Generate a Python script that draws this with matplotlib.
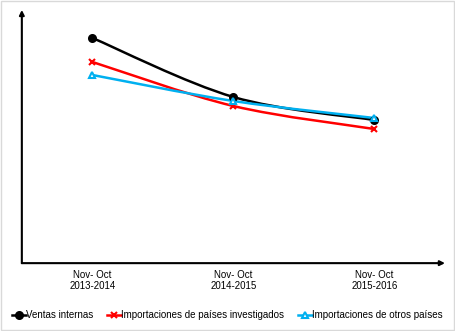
import numpy as np
import matplotlib
matplotlib.use("Agg")
from matplotlib import pyplot as plt
from matplotlib.path import Path
from matplotlib.patches import PathPatch, Rectangle
from matplotlib.lines import Line2D

plt.rcParams['font.family'] = ['Liberation Sans', 'DejaVu Sans']

periodos = ["Nov- Oct\n2013-2014", "Nov- Oct\n2014-2015", "Nov- Oct\n2015-2016"]
ventas_internas = [225, 166, 143]
imp_investigados = [201, 157, 134]
imp_otros = [188, 162, 145]

series = [
    ("Ventas internas", ventas_internas, "#000000", "o", "#000000"),
    ("Importaciones de países investigados", imp_investigados, "#ff0000", "x", "#ff0000"),
    ("Importaciones de otros países", imp_otros, "#00b0f0", "^", "#ffffff"),
]


def smooth_path(xs, ys, t=1.0 / 6):
    # curva suavizada tipo Excel (Bezier cúbica por tramos)
    pts = np.column_stack([xs, ys]).astype(float)
    n = len(pts)
    verts = [pts[0]]
    codes = [Path.MOVETO]
    for i in range(n - 1):
        p0 = pts[max(i - 1, 0)]
        p1 = pts[i]
        p2 = pts[i + 1]
        p3 = pts[min(i + 2, n - 1)]
        c1 = p1 + (p2 - p0) * t
        c2 = p2 - (p3 - p1) * t
        verts += [c1, c2, p2]
        codes += [Path.CURVE4] * 3
    return Path(verts, codes)


fig = plt.figure(figsize=(4.55, 3.31), dpi=100)
ax = fig.add_axes([0.048, 0.205, 0.93, 0.765])

x = np.arange(len(periodos))
handles = []
for nombre, vals, color, mk, face in series:
    ax.add_patch(PathPatch(smooth_path(x, vals), facecolor="none",
                           edgecolor=color, lw=1.8, zorder=2))
    ax.plot(x, vals, linestyle="none", marker=mk, color=color,
            markerfacecolor=face, markeredgecolor=color,
            markersize=5, markeredgewidth=1.5, zorder=3)
    handles.append(Line2D([0], [0], color=color, lw=1.8, marker=mk,
                          markerfacecolor=face, markeredgecolor=color,
                          markersize=5, markeredgewidth=1.5, label=nombre))

ax.set_xlim(-0.5, 2.5)
ax.set_ylim(0, 253)
for s in ax.spines.values():
    s.set_visible(False)
ax.set_yticks([])
ax.set_xticks(x)
ax.set_xticklabels(periodos, fontsize=7, linespacing=1.1)
ax.tick_params(axis="x", length=0, pad=5)

# ejes con flecha
arrow = dict(arrowstyle="-|>", color="black", lw=1.5, mutation_scale=7,
             shrinkA=0, shrinkB=0)
ax.annotate("", xy=(0, 1), xytext=(0, 0), xycoords="axes fraction",
            arrowprops=arrow, annotation_clip=False)
ax.annotate("", xy=(1, 0), xytext=(0, 0), xycoords="axes fraction",
            arrowprops=arrow, annotation_clip=False)

fig.legend(handles=handles, loc="center", bbox_to_anchor=(0.5, 0.048),
           ncol=3, frameon=False, fontsize=7, handlelength=1.4,
           handletextpad=0.05, columnspacing=1.4)

fig.patches.append(Rectangle((0.002, 0.003), 0.996, 0.994, transform=fig.transFigure,
                             fill=False, edgecolor="#d9d9d9", lw=1))

fig.savefig("out.png", dpi=100)
